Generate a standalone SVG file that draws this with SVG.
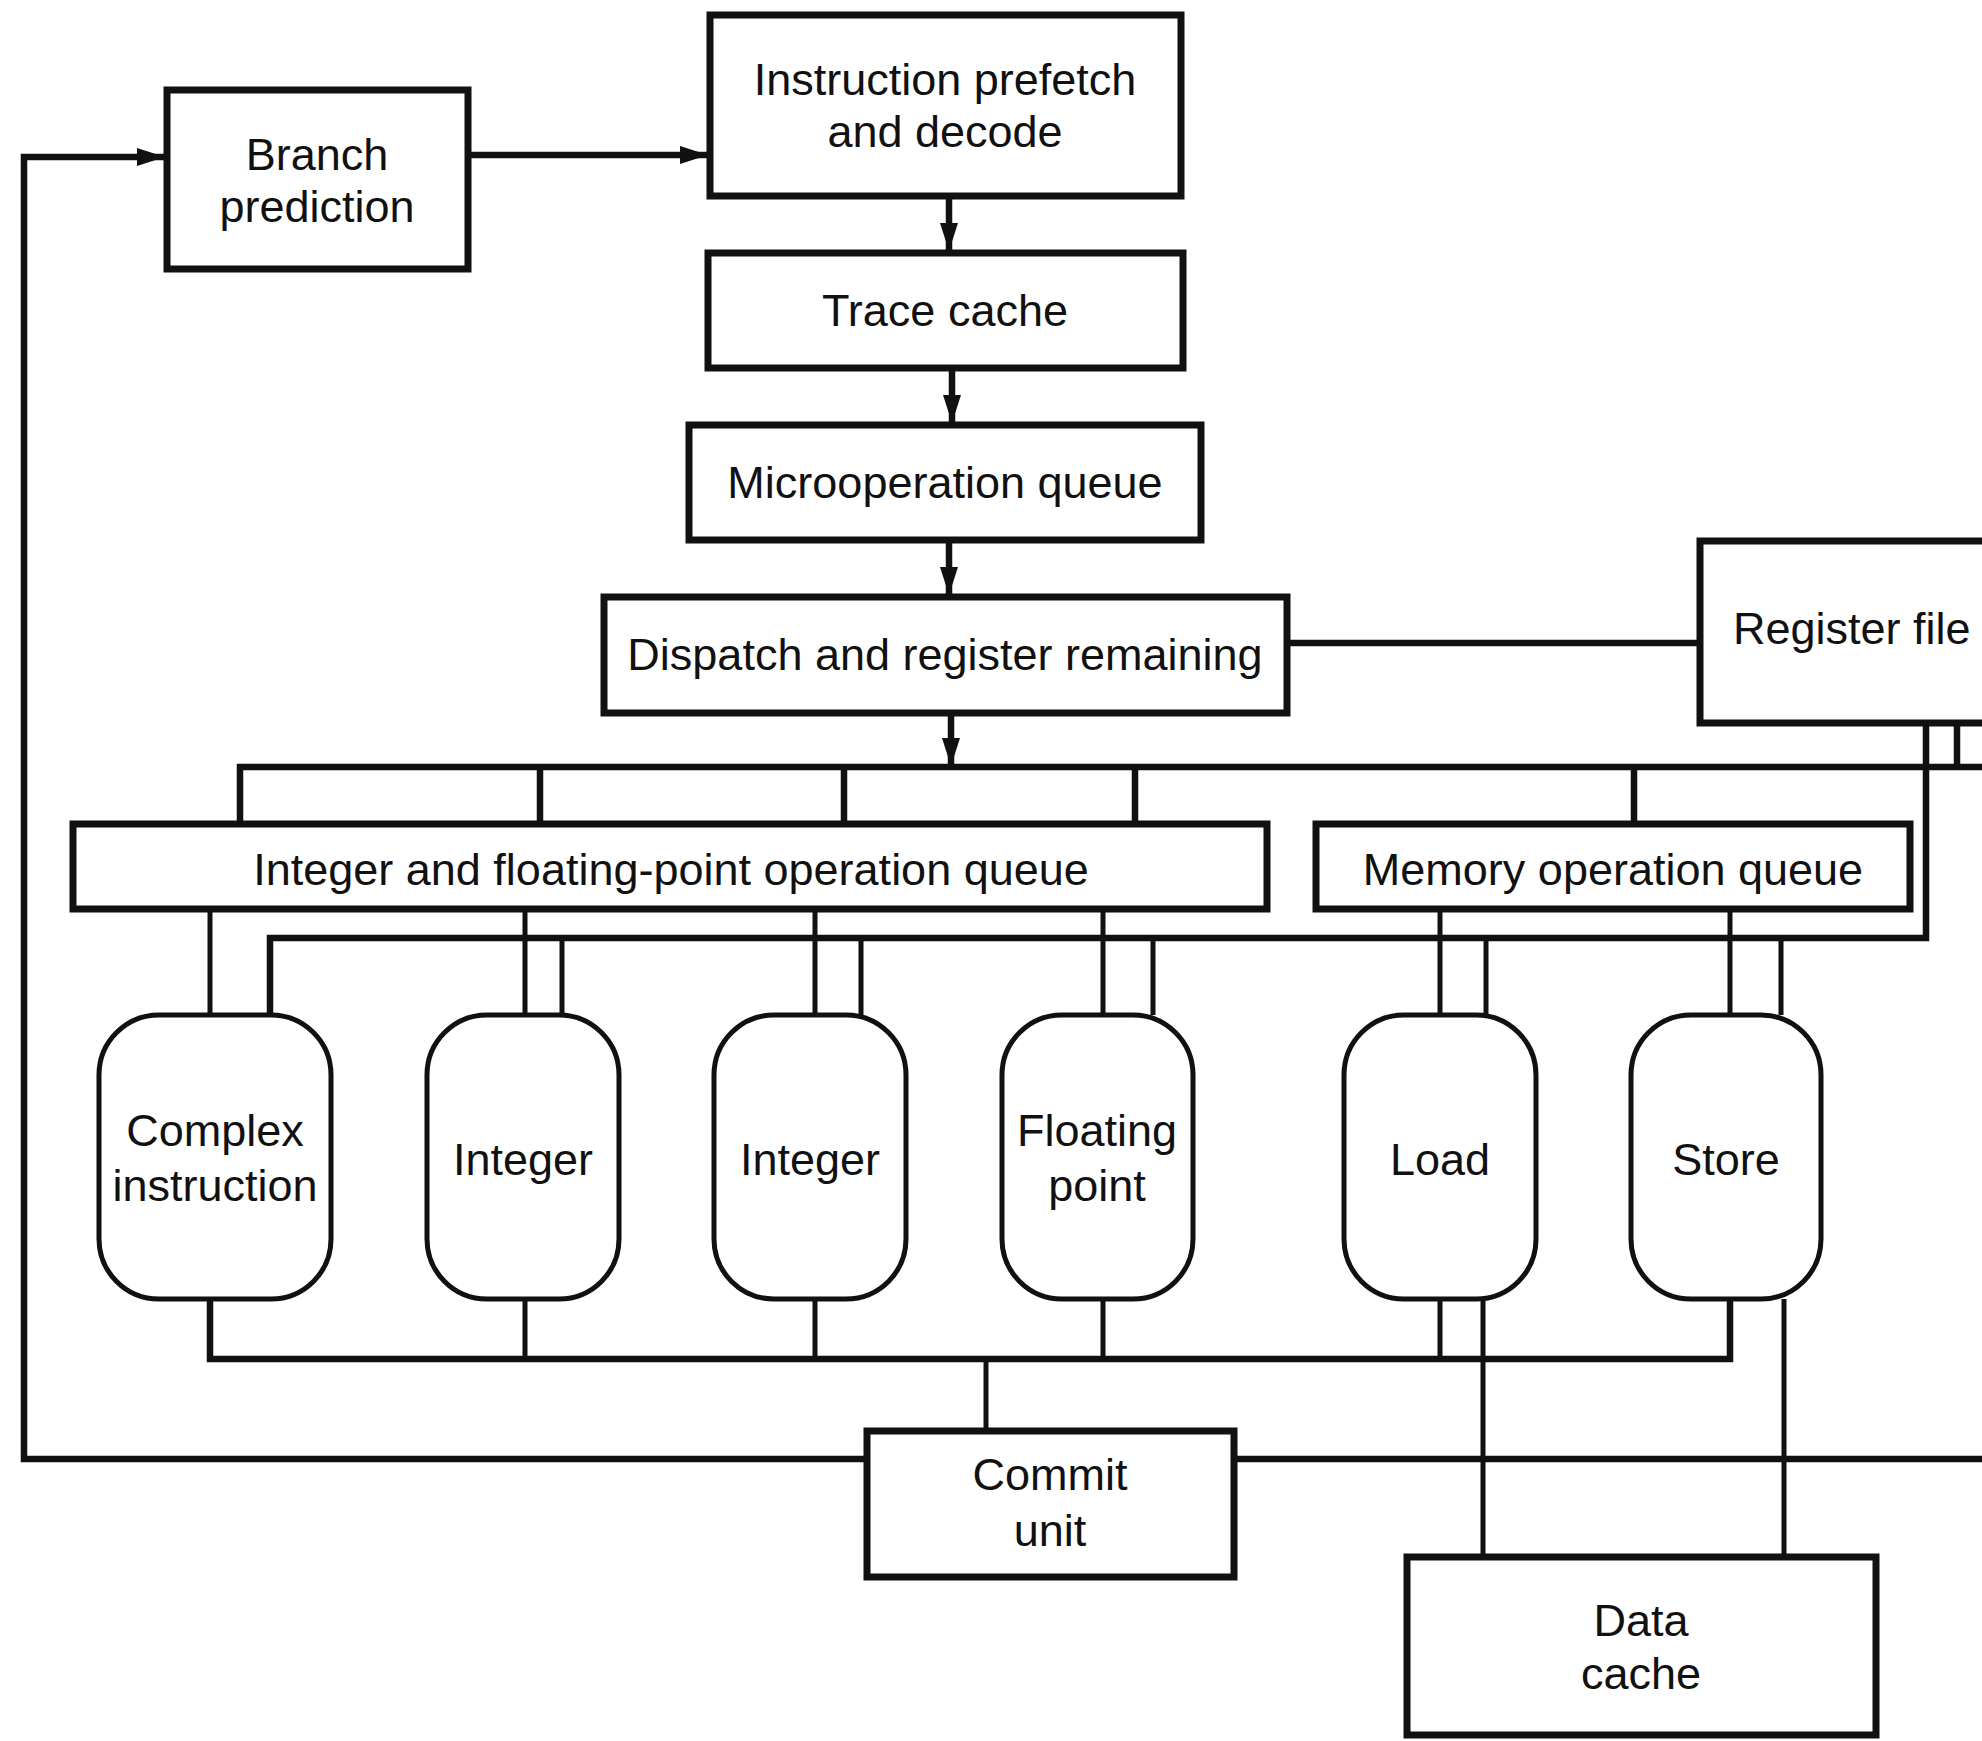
<svg xmlns="http://www.w3.org/2000/svg" width="1982" height="1741" viewBox="0 0 1982 1741">
<style>
.box{fill:#fff;stroke:#111;stroke-width:7}
.unit{fill:#fff;stroke:#111;stroke-width:5}
.ln{fill:none;stroke:#111;stroke-width:6.5}
.th{fill:none;stroke:#111;stroke-width:5}
text{font-family:"Liberation Sans",Arial,sans-serif;font-size:45px;fill:#111;text-anchor:middle}
</style>
<defs>
<marker id="ah" markerUnits="userSpaceOnUse" markerWidth="28" markerHeight="18" refX="28" refY="9" orient="auto">
<path d="M0,0 L28,9 L0,18 z" fill="#111"/>
</marker>
</defs>
<rect width="1982" height="1741" fill="#fff"/>
<g id="connectors">
<path class="ln" d="M867,1459 L24,1459 L24,157 L165,157" marker-end="url(#ah)"/>
<path class="ln" d="M1234,1459 L1982,1459"/>
<path class="ln" d="M468,155 L708,155" marker-end="url(#ah)"/>
<path class="ln" d="M949,196 L949,251" marker-end="url(#ah)"/>
<path class="ln" d="M952,368 L952,423" marker-end="url(#ah)"/>
<path class="ln" d="M949,540 L949,595" marker-end="url(#ah)"/>
<path class="ln" d="M951,713 L951,766" marker-end="url(#ah)"/>
<path class="ln" d="M1287,643 L1700,643"/>
<path class="ln" d="M240,824 L240,767 L1982,767"/>
<path class="ln" d="M540,767 L540,824 M844,767 L844,824 M1135,767 L1135,824 M1634,767 L1634,824"/>
<path class="ln" d="M1957,723 L1957,767"/>
<path class="ln" d="M1926,723 L1926,938 L270,938 L270,1015"/>
<path class="th" d="M562,938 L562,1015 M861,938 L861,1015 M1153,938 L1153,1015 M1486,938 L1486,1015 M1781,938 L1781,1015"/>
<path class="th" d="M210,909 L210,1015 M525,909 L525,1015 M815,909 L815,1015 M1103,909 L1103,1015 M1440,909 L1440,1015 M1730,909 L1730,1015"/>
<path class="ln" d="M210,1299 L210,1359 L1730,1359 L1730,1299"/>
<path class="th" d="M525,1299 L525,1359 M815,1299 L815,1359 M1103,1299 L1103,1359 M1440,1299 L1440,1359"/>
<path class="th" d="M986,1359 L986,1431"/>
<path class="th" d="M1483,1299 L1483,1557 M1784,1299 L1784,1557"/>
</g>
<g id="branch"><rect class="box" x="167" y="90" width="301" height="179"/><text x="317" y="170">Branch</text><text x="317" y="222">prediction</text></g>
<g id="prefetch"><rect class="box" x="710" y="15" width="471" height="181"/><text x="945" y="95">Instruction prefetch</text><text x="945" y="147">and decode</text></g>
<g id="trace"><rect class="box" x="708" y="253" width="475" height="115"/><text x="945" y="326">Trace cache</text></g>
<g id="microop"><rect class="box" x="689" y="425" width="512" height="115"/><text x="945" y="498">Microoperation queue</text></g>
<g id="dispatch"><rect class="box" x="604" y="597" width="683" height="116"/><text x="945" y="670">Dispatch and register remaining</text></g>
<g id="regfile"><rect class="box" x="1700" y="541" width="320" height="182"/><text x="1733" y="644" style="text-anchor:start">Register file</text></g>
<g id="intfpq"><rect class="box" x="73" y="824" width="1194" height="85"/><text x="671" y="885">Integer and floating-point operation queue</text></g>
<g id="memq"><rect class="box" x="1316" y="824" width="594" height="85"/><text x="1613" y="885">Memory operation queue</text></g>
<g id="complex"><rect class="unit" x="99" y="1015" width="232" height="284" rx="60" ry="60"/><text x="215" y="1146">Complex</text><text x="215" y="1201">instruction</text></g>
<g id="int1"><rect class="unit" x="427" y="1015" width="192" height="284" rx="60" ry="60"/><text x="523" y="1175">Integer</text></g>
<g id="int2"><rect class="unit" x="714" y="1015" width="192" height="284" rx="60" ry="60"/><text x="810" y="1175">Integer</text></g>
<g id="fp"><rect class="unit" x="1002" y="1015" width="191" height="284" rx="60" ry="60"/><text x="1097" y="1146">Floating</text><text x="1097" y="1201">point</text></g>
<g id="load"><rect class="unit" x="1344" y="1015" width="192" height="284" rx="60" ry="60"/><text x="1440" y="1175">Load</text></g>
<g id="store"><rect class="unit" x="1631" y="1015" width="190" height="284" rx="60" ry="60"/><text x="1726" y="1175">Store</text></g>
<g id="commit"><rect class="box" x="867" y="1431" width="367" height="146"/><text x="1050" y="1490">Commit</text><text x="1050" y="1546">unit</text></g>
<g id="dcache"><rect class="box" x="1407" y="1557" width="469" height="178"/><text x="1641" y="1636">Data</text><text x="1641" y="1689">cache</text></g>
</svg>
